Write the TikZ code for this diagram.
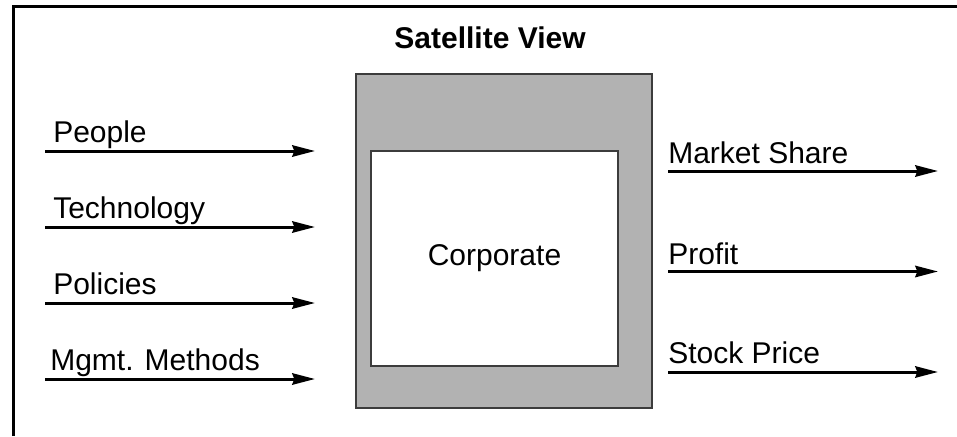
\documentclass[tikz,border=0pt]{standalone}
\usepackage{fontspec}
\setmainfont{Liberation Sans}
\usetikzlibrary{arrows.meta,positioning}
\definecolor{shellcolor}{RGB}{178,178,178}
\definecolor{edgecolor}{RGB}{60,60,60}

\begin{document}
\begin{tikzpicture}[%
    x=0.75pt, y=-0.75pt,          % work in screen pixels, y going down
    >={Stealth[length=17pt,width=8.5pt,inset=1.5pt]},
    font=\fontsize{22.5}{27}\selectfont,
    ]
\tikzset{
  flow/.style={->, line width=2.25pt},
  lbl/.style={anchor=base west, inner sep=0pt},
  shell/.style={draw=edgecolor, line width=0.9pt, fill=shellcolor,
                minimum width=222pt, minimum height=250.5pt},
  core/.style={draw=edgecolor, line width=0.9pt, fill=white,
               minimum width=185.25pt, minimum height=161.25pt},
}
\useasboundingbox (0,0) rectangle (957,436);

% open frame, top and left sides only
\draw [line width=2.25pt] (13,436) -- (13,6.5) -- (957,6.5);

\node [anchor=base] (title) at (490,48) {\bfseries Satellite View};
\node [shell] (corp) at (504,241) {};
\node [core] (core) at (494.5,258.5) {Corporate};

% inputs
\coordinate (in1) at (45,151);  \coordinate (in1e) at (315,151);
\coordinate (in2) at (45,227);  \coordinate (in2e) at (315,227);
\coordinate (in3) at (45,303);  \coordinate (in3e) at (315,303);
\coordinate (in4) at (45,379);  \coordinate (in4e) at (315,379);

\node [lbl] (l1) at (53,142) {People};
\node [lbl] (l2) at (53,218) {Technology};
\node [lbl] (l3) at (53,294) {Policies};
\node [lbl] (l4) at (50,370) {Mgmt. Methods};

\draw [flow] (in1) -- (in1e);
\draw [flow] (in2) -- (in2e);
\draw [flow] (in3) -- (in3e);
\draw [flow] (in4) -- (in4e);

% outputs
\coordinate (out1) at (668,171);  \coordinate (out1e) at (938,171);
\coordinate (out2) at (668,271.5);\coordinate (out2e) at (938,271.5);
\coordinate (out3) at (668,372);  \coordinate (out3e) at (938,372);

\node [lbl] (r1) at (668,163) {Market Share};
\node [lbl] (r2) at (668,264) {Profit};
\node [lbl] (r3) at (668,363) {Stock Price};

\draw [flow] (out1) -- (out1e);
\draw [flow] (out2) -- (out2e);
\draw [flow] (out3) -- (out3e);

\end{tikzpicture}
\end{document}
